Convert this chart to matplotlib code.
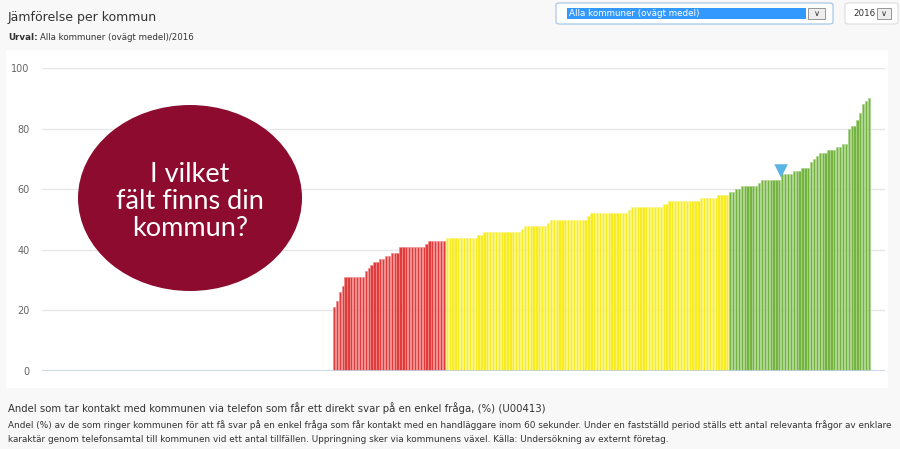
import matplotlib
matplotlib.use("Agg")
import matplotlib.pyplot as plt
from matplotlib.patches import Rectangle, Ellipse, FancyBboxPatch
import numpy as np

# ---------------- data ----------------
red_values = [21, 23, 26, 28, 31, 31, 31, 31, 31, 31, 31, 33, 34, 35, 36, 36, 37, 37, 38, 38,
              39, 39, 39, 41, 41, 41, 41, 41, 41, 41, 41, 41, 42, 43, 43, 43, 43, 43, 43]
yellow_values = [44, 44, 44, 44, 44, 44, 44, 44, 44, 44, 44, 45, 45,
                 46, 46, 46, 46, 46, 46, 46, 46, 46, 46, 46, 46, 46, 47,
                 48, 48, 48, 48, 48, 48, 48, 48, 49,
                 50, 50, 50, 50, 50, 50, 50, 50, 50, 50, 50, 50, 50, 51,
                 52, 52, 52, 52, 52, 52, 52, 52, 52, 52, 52, 52, 52, 53,
                 54, 54, 54, 54, 54, 54, 54, 54, 54, 54, 54, 55, 55,
                 56, 56, 56, 56, 56, 56, 56, 56, 56, 56, 56,
                 57, 57, 57, 57, 57, 57, 58, 58, 58, 58]
green_values = [59, 59, 60, 60, 61, 61, 61, 61, 61, 61, 62, 63, 63, 63, 63, 63, 63, 63,
                65, 65, 65, 65, 66, 66, 66, 67, 67, 67, 69, 70, 71, 72, 72, 72,
                73, 73, 73, 74, 74, 75, 75, 80, 81, 81, 83, 85, 88, 89, 90]
missing_count = 101          # municipalities without a value (empty slots on the left)
highlight_index = 154        # selected municipality (marker)
y_ticks = [0, 20, 40, 60, 80, 100]

title = "Jämförelse per kommun"
subtitle_bold = "Urval:"
subtitle = "Alla kommuner (ovägt medel)/2016"
dropdown_text = "Alla kommuner (ovägt medel)"
year_text = "2016"
bubble_text = "I vilket\nfält finns din\nkommun?"
indicator_title = "Andel som tar kontakt med kommunen via telefon som får ett direkt svar på en enkel fråga, (%) (U00413)"
indicator_desc = ("Andel (%) av de som ringer kommunen för att få svar på en enkel fråga som får kontakt med en handläggare inom 60 sekunder. Under en fastställd period ställs ett antal relevanta frågor av enklare\n"
                  "karaktär genom telefonsamtal till kommunen vid ett antal tillfällen. Uppringning sker via kommunens växel. Källa: Undersökning av externt företag.")

W, H = 900, 449
fig = plt.figure(figsize=(W / 100, H / 100), dpi=100)
fig.patch.set_facecolor("#f8f8f8")


def fx(x):
    return x / W


def fy(y):
    return 1 - y / H


# white chart container
fig.add_artist(Rectangle((fx(6), fy(388)), (888 - 6) / W, (388 - 50) / H,
                         transform=fig.transFigure, facecolor="white", edgecolor="none", zorder=0))

# axes
left, right, top, bottom = 42, 885, 68, 371
ax = fig.add_axes([fx(left), fy(bottom), (right - left) / W, (bottom - top) / H])
ax.set_facecolor("none")
for s in ax.spines.values():
    s.set_visible(False)

all_vals = red_values + yellow_values + green_values
n = len(all_vals)
x = np.arange(n)
cols = (["#e23b3b"] * len(red_values) + ["#f7ec1f"] * len(yellow_values) + ["#75b341"] * len(green_values))
edges = (["#f08a8a"] * len(red_values) + ["#fbf47a"] * len(yellow_values) + ["#a9d48a"] * len(green_values))
ax.bar(x, all_vals, width=0.78, color=cols, edgecolor=edges, linewidth=0.5, zorder=3)

pitch = (869 - 334) / (n - 1)
x0 = (left - 334) / pitch
x1 = (right - 334) / pitch
ax.set_xlim(x0, x1)
ax.set_ylim(0, 100)
ax.set_xticks([])
ax.set_yticks(y_ticks)
ax.set_yticklabels([str(t) for t in y_ticks], fontsize=7, color="#666666")
ax.tick_params(axis="y", length=0, pad=9)
for t in y_ticks[1:]:
    ax.axhline(t, color="#e6e6e6", lw=1, zorder=1)
ax.axhline(0, color="#c0d0e0", lw=1.2, zorder=4)

# highlight marker
ax.scatter([highlight_index + 0.6], [all_vals[highlight_index] + 3.0], marker="v", s=95,
           color="#5ab4e3", edgecolor="none", zorder=5, clip_on=False)

# bubble
fig.add_artist(Ellipse((fx(190), fy(198)), 224 / W, 186 / H, transform=fig.transFigure,
                       facecolor="#8c0b2f", edgecolor="none", zorder=6))
fig.text(fx(190), fy(201), bubble_text, ha="center", va="center", color="white",
         fontsize=19.5, family="Lato", linespacing=1.1, zorder=7)

# header texts
fig.text(fx(8), fy(18), title, fontsize=9.0, color="#333333", va="center", family="DejaVu Sans")
fig.text(fx(8), fy(37), subtitle_bold, fontsize=6.3, color="#333333", va="center",
         fontweight="bold", family="DejaVu Sans")
fig.text(fx(40), fy(37), subtitle, fontsize=6.2, color="#333333", va="center", family="DejaVu Sans")

# dropdowns
fig.add_artist(FancyBboxPatch((fx(556), fy(24)), (833 - 556) / W, 21 / H, boxstyle="round,pad=0,rounding_size=0.004",
                              transform=fig.transFigure, facecolor="white", edgecolor="#9fc2e6", lw=0.8, zorder=2))
fig.add_artist(Rectangle((fx(567), fy(19)), (806 - 567) / W, 11 / H, transform=fig.transFigure,
                         facecolor="#3399ff", edgecolor="none", zorder=3))
fig.text(fx(569), fy(13.5), dropdown_text, fontsize=6.3, color="white", va="center", family="DejaVu Sans", zorder=4)
fig.add_artist(Rectangle((fx(808), fy(19)), 17 / W, 11 / H, transform=fig.transFigure,
                         facecolor="#eeeeee", edgecolor="#888888", lw=0.6, zorder=3))
fig.text(fx(816.5), fy(13.5), "\u2228", fontsize=6, color="#333333", va="center", ha="center", zorder=4)

fig.add_artist(FancyBboxPatch((fx(845), fy(24)), (898 - 845) / W, 21 / H, boxstyle="round,pad=0,rounding_size=0.004",
                              transform=fig.transFigure, facecolor="white", edgecolor="#dddddd", lw=0.8, zorder=2))
fig.text(fx(853), fy(13.5), year_text, fontsize=6.3, color="#333333", va="center", family="DejaVu Sans", zorder=4)
fig.add_artist(Rectangle((fx(877), fy(19)), 14 / W, 11 / H, transform=fig.transFigure,
                         facecolor="#eeeeee", edgecolor="#888888", lw=0.6, zorder=3))
fig.text(fx(884), fy(13.5), "\u2228", fontsize=6, color="#333333", va="center", ha="center", zorder=4)

# footer texts
fig.text(fx(8), fy(408), indicator_title, fontsize=7.3, color="#333333", va="center", family="DejaVu Sans")
fig.text(fx(8), fy(432), indicator_desc, fontsize=6.4, color="#333333", va="center", family="DejaVu Sans",
         linespacing=1.6)

fig.savefig("out.png", dpi=100, facecolor=fig.get_facecolor())
